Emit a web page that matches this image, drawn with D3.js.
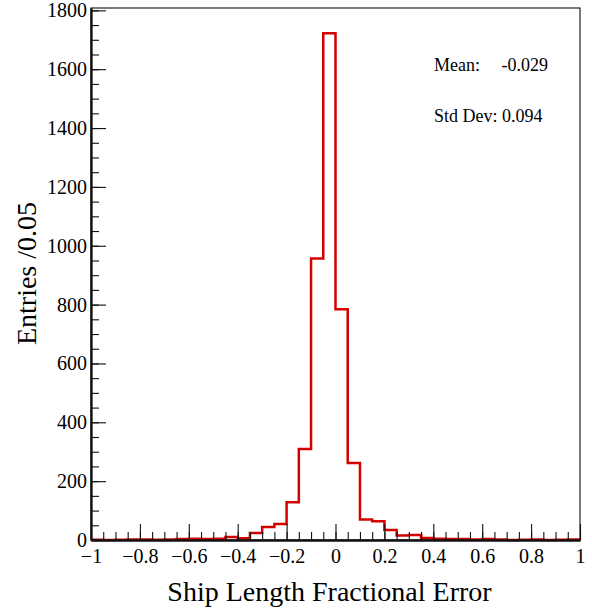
<!DOCTYPE html>
<html>
<head>
<meta charset="utf-8">
<script src="https://cdn.jsdelivr.net/npm/d3@7"></script>
<style>
  html, body { margin: 0; padding: 0; background: #fff; }
  svg { display: block; font-family: "Liberation Serif", "DejaVu Serif", serif; }
</style>
</head>
<body>
<svg id="chart" width="592" height="611"></svg>
<script>
// ---- data ----
const binEdgesLow = -1.0;
const binWidth = 0.05;
const counts = [
  1, 0, 1, 2, 2, 1, 2, 3, 4, 3,
  4, 10, 6, 24, 44, 54, 128, 309, 957, 1722,
  784, 262, 70, 64, 34, 15, 17, 7, 4, 3,
  3, 2, 3, 2, 0, 1, 2, 0, 1, 2
];
const xMajorTicks = [-1, -0.8, -0.6, -0.4, -0.2, 0, 0.2, 0.4, 0.6, 0.8, 1];
const xMajorLabels = ["\u22121", "\u22120.8", "\u22120.6", "\u22120.4", "\u22120.2", "0", "0.2", "0.4", "0.6", "0.8", "1"];
const yMajorTicks = [0, 200, 400, 600, 800, 1000, 1200, 1400, 1600, 1800];
const yMajorLabels = ["0", "200", "400", "600", "800", "1000", "1200", "1400", "1600", "1800"];
const statsLabels = ["Mean:", "Std Dev: 0.094"];
const statsValues = ["-0.029", ""];
const xTitle = "Ship Length Fractional Error";
const yTitle = "Entries /0.05";

// ---- layout ----
const L = 91, R = 580, T = 8, B = 540;
const svg = d3.select("#chart");

const x = d3.scaleLinear().domain([-1, 1]).range([L, R]);
const y = d3.scaleLinear().domain([0, 1808]).range([B, T]);

// frame
svg.append("rect")
  .attr("x", L).attr("y", T).attr("width", R - L).attr("height", B - T)
  .attr("fill", "none").attr("stroke", "#222").attr("stroke-width", 1.2);

// histogram step path
const pts = [];
counts.forEach((c, i) => {
  const x0 = binEdgesLow + i * binWidth;
  const x1 = x0 + binWidth;
  pts.push([x(x0), y(c)]);
  pts.push([x(x1), y(c)]);
});
svg.append("path")
  .attr("d", d3.line()(pts))
  .attr("fill", "none")
  .attr("stroke", "#d40000")
  .attr("stroke-width", 2.5)
  .attr("stroke-linejoin", "miter");

// minor ticks
const xMinor = d3.range(0, 41).map(i => -1 + i * 0.05);
const yMinor = d3.range(0, 37).map(i => i * 50);

const gxMinor = svg.append("g").attr("transform", `translate(0,${B})`)
  .call(d3.axisBottom(x).tickValues(xMinor).tickSize(-8).tickSizeOuter(0).tickFormat(""));
const gyMinor = svg.append("g").attr("transform", `translate(${L},0)`)
  .call(d3.axisLeft(y).tickValues(yMinor).tickSize(-8).tickSizeOuter(0).tickFormat(""));

// major ticks with labels
const gx = svg.append("g").attr("transform", `translate(0,${B})`)
  .call(d3.axisBottom(x).tickValues(xMajorTicks).tickSize(-16).tickSizeOuter(0)
    .tickPadding(9).tickFormat((d, i) => xMajorLabels[i]));
const gy = svg.append("g").attr("transform", `translate(${L},0)`)
  .call(d3.axisLeft(y).tickValues(yMajorTicks).tickSize(-15).tickSizeOuter(0)
    .tickPadding(4).tickFormat((d, i) => yMajorLabels[i]));

[gxMinor, gyMinor, gx, gy].forEach(g => {
  g.selectAll(".tick line").attr("stroke", "#111").attr("stroke-width", 1.1);
  g.select(".domain").attr("stroke", "#111").attr("stroke-width", 1.8);
  g.selectAll("text").attr("fill", "#000").style("font-size", "20px")
    .style("font-family", "'Liberation Serif', serif");
});

// titles
svg.append("text")
  .attr("x", (166 + 493) / 2).attr("y", 601)
  .attr("text-anchor", "middle")
  .style("font-size", "28px")
  .text(xTitle);

svg.append("text")
  .attr("transform", `translate(36,${273.5}) rotate(-90)`)
  .attr("text-anchor", "middle")
  .style("font-size", "28px")
  .text(yTitle);

// stats
svg.append("text").attr("x", 434).attr("y", 71).style("font-size", "18px").text(statsLabels[0]);
svg.append("text").attr("x", 548).attr("y", 71).attr("text-anchor", "end").style("font-size", "18px").text(statsValues[0]);
svg.append("text").attr("x", 434).attr("y", 122).style("font-size", "18px").text(statsLabels[1]);
</script>
</body>
</html>
